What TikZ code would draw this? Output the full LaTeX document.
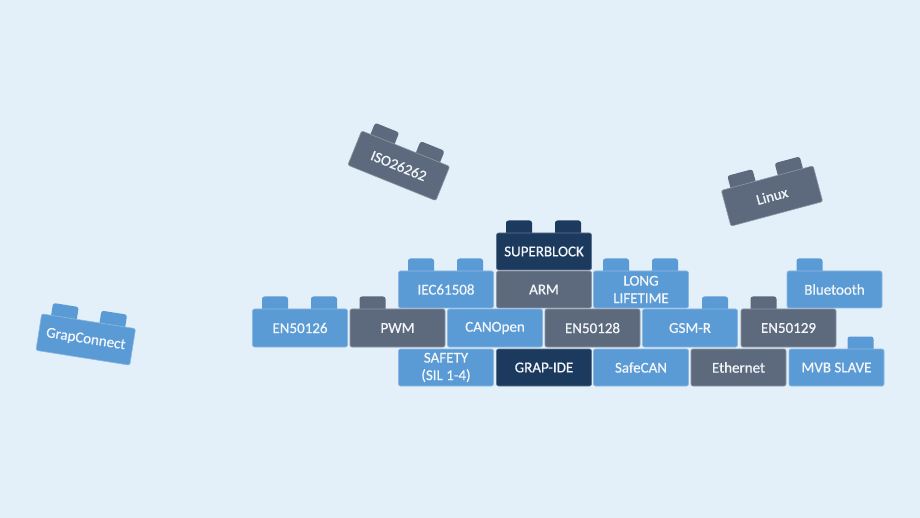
\documentclass[tikz,border=0pt]{standalone}
\usepackage{fontspec}
\setmainfont{Carlito}[FakeBold=0.6]
\definecolor{bgc}{HTML}{E3EFF9}
\definecolor{bblue}{HTML}{5B9BD5}
\definecolor{bgray}{HTML}{5D6A7E}
\definecolor{bnavy}{HTML}{1C3A5E}
\definecolor{btext}{HTML}{F2F6FA}
\tikzset{
  brick/.style={minimum width=95pt, minimum height=37pt, inner sep=1pt,
    rounded corners=2pt, fill=#1, draw=#1!70!white, line width=0.6pt,
    text=btext, align=center, font=\fontsize{15}{17.5}\selectfont},
  studfill/.style={fill=#1, rounded corners=2.5pt}
}
\begin{document}
\begin{tikzpicture}[x=1pt, y=-1pt]
\fill[bgc] (0,0) rectangle (920,518);
\useasboundingbox (0,0) rectangle (920,518);

% ---- row 0
\foreach \o in {10,59} {\fill[studfill=bnavy] (544-48+\o, 251.5-18.5-12.5) rectangle ++(26,16);}
\node[brick=bnavy] (superblock) at (544,251.5) {SUPERBLOCK};

% ---- row 1
\foreach \o in {10,59} {\fill[studfill=bblue] (446-48+\o, 289.5-18.5-12.5) rectangle ++(26,16);}
\node[brick=bblue] (iec) at (446,289.5) {IEC61508};
\node[brick=bgray] (arm) at (544,289.5) {ARM};
\foreach \o in {10,59} {\fill[studfill=bblue] (641-48+\o, 289.5-18.5-12.5) rectangle ++(26,16);}
\node[brick=bblue] (long) at (641,289.5) {LONG\\LIFETIME};
\foreach \o in {10} {\fill[studfill=bblue] (834.5-48+\o, 289.5-18.5-12.5) rectangle ++(26,16);}
\node[brick=bblue] (bluetooth) at (834.5,289.5) {Bluetooth};

% ---- row 2
\foreach \o in {10,59} {\fill[studfill=bblue] (300-48+\o, 328-19-12.5) rectangle ++(26,16);}
\node[brick=bblue, minimum height=38pt] (en50126) at (300,328) {EN50126};
\foreach \o in {10} {\fill[studfill=bgray] (397.5-48+\o, 328-19-12.5) rectangle ++(26,16);}
\node[brick=bgray, minimum height=38pt] (pwm) at (397.5,328) {PWM};
\node[brick=bblue, minimum height=38pt] (canopen) at (495,328) {CANOpen};
\node[brick=bgray, minimum height=38pt] (en50128) at (592.5,328) {EN50128};
\foreach \o in {60} {\fill[studfill=bblue] (690-48+\o, 328-19-12.5) rectangle ++(26,16);}
\node[brick=bblue, minimum height=38pt] (gsmr) at (690,328) {GSM-R};
\foreach \o in {10} {\fill[studfill=bgray] (788.5-48+\o, 328-19-12.5) rectangle ++(26,16);}
\node[brick=bgray, minimum height=38pt] (en50129) at (788.5,328) {EN50129};

% ---- row 3
\node[brick=bblue] (safety) at (446,367.5) {SAFETY\\(SIL 1-4)};
\node[brick=bnavy] (grapide) at (544,367.5) {GRAP-IDE};
\node[brick=bblue] (safecan) at (641,367.5) {SafeCAN};
\node[brick=bgray] (ethernet) at (738.5,367.5) {Ethernet};
\foreach \o in {59} {\fill[studfill=bblue] (836.5-48+\o, 367.5-18.5-12.5) rectangle ++(26,16);}
\node[brick=bblue] (mvb) at (836.5,367.5) {MVB SLAVE};

% ---- tilted bricks
\begin{scope}[shift={(398.75,165.75)}, rotate=-22, transform shape]
  \foreach \o in {10,59} {\fill[studfill=bgray] (-48+\o, -18.5-12.5) rectangle ++(26,16);}
  \node[brick=bgray] (iso) at (0,0) {ISO26262};
\end{scope}
\begin{scope}[shift={(772,196)}, rotate=15, transform shape]
  \foreach \o in {10,59} {\fill[studfill=bgray] (-48+\o, -18.5-12.5) rectangle ++(26,16);}
  \node[brick=bgray] (linux) at (0,0) {Linux};
\end{scope}
\begin{scope}[shift={(85.75,339.5)}, rotate=-9, transform shape]
  \foreach \o in {10,59} {\fill[studfill=bblue] (-48+\o, -18.5-12.5) rectangle ++(26,16);}
  \node[brick=bblue] (grapconnect) at (0,0) {GrapConnect};
\end{scope}
\end{tikzpicture}
\end{document}
